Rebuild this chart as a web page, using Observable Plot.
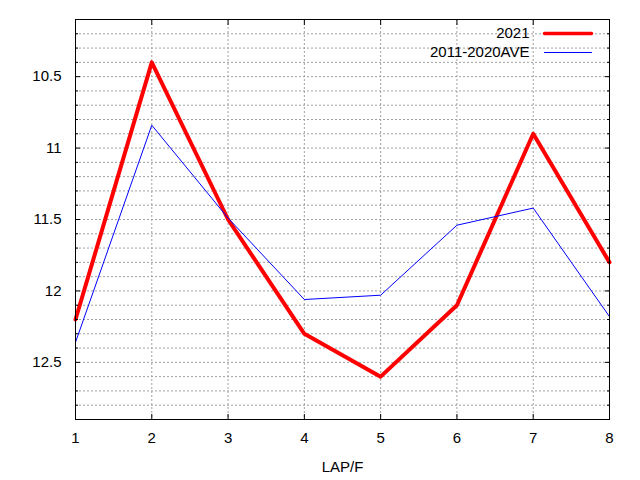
<!DOCTYPE html>
<html><head><meta charset="utf-8">
<script src="https://cdn.jsdelivr.net/npm/d3@7"></script>
<script src="https://cdn.jsdelivr.net/npm/@observablehq/plot@0.6"></script>
<style>body{margin:0;background:#fff}</style>
</head><body><div id="chart"></div>
<script>
const laps = [1, 2, 3, 4, 5, 6, 7, 8];
const times2021 = [12.2, 10.4, 11.5, 12.3, 12.6, 12.1, 10.9, 11.8];
const timesAve = [12.36, 10.84, 11.49, 12.06, 12.03, 11.54, 11.42, 12.18];
const seriesNames = ["2021", "2011-2020AVE"];
const xTicks = [1, 2, 3, 4, 5, 6, 7, 8];
const yTicks = [10.5, 11, 11.5, 12, 12.5];
const yGrid = [10.2, 10.3, 10.4, 10.5, 10.6, 10.7, 10.8, 10.9, 11, 11.1, 11.2, 11.3, 11.4, 11.5,
  11.6, 11.7, 11.8, 11.9, 12, 12.1, 12.2, 12.3, 12.4, 12.5, 12.6, 12.7, 12.8];
const yMinor = yGrid.filter(v => !yTicks.includes(v));
const xLabel = "LAP/F";

const rows2021 = laps.map((lap, i) => ({lap, time: times2021[i], series: seriesNames[0]}));
const rowsAve = laps.map((lap, i) => ({lap, time: timesAve[i], series: seriesNames[1]}));

const lineShape = {draw(context, l) { context.moveTo(0, 0); context.lineTo(0, -l); }};
const gridStyle = {stroke: "#a0a0a0", strokeDasharray: "2,2", strokeWidth: 1};
const noText = () => "";

const chart = Plot.plot({
  width: 640,
  height: 480,
  marginLeft: 75,
  marginRight: 31,
  marginTop: 19,
  marginBottom: 61,
  style: {fontFamily: "'Liberation Sans', Arial, sans-serif", fontSize: "15px", background: "#fff", color: "#000"},
  x: {domain: [1, 8]},
  y: {domain: [10.1, 12.9], reverse: true},
  marks: [
    Plot.ruleY(yGrid, {y: d => d, ...gridStyle}),
    Plot.ruleX(xTicks, {x: d => d, ...gridStyle}),
    Plot.line(rows2021, {x: "lap", y: "time", stroke: "#ff0000", strokeWidth: 4}),
    Plot.line(rowsAve, {x: "lap", y: "time", stroke: "#0000ff", strokeWidth: 1}),
    Plot.frame({stroke: "#000"}),
    // labels
    Plot.axisY({anchor: "left", ticks: yTicks, tickSize: 0, tickPadding: 14, tickFormat: d => String(d), label: null, fontSize: 15}),
    Plot.axisX({anchor: "bottom", ticks: xTicks, tickSize: 0, tickPadding: 13, tickFormat: d => String(d), label: null, fontSize: 15}),
    // inward ticks
    Plot.axisY({anchor: "left", ticks: yTicks, tickSize: -5, tickFormat: noText, label: null}),
    Plot.axisY({anchor: "right", ticks: yTicks, tickSize: -5, tickFormat: noText, label: null}),
    Plot.axisY({anchor: "left", ticks: yMinor, tickSize: -3, tickFormat: noText, label: null}),
    Plot.axisY({anchor: "right", ticks: yMinor, tickSize: -3, tickFormat: noText, label: null}),
    Plot.axisX({anchor: "bottom", ticks: xTicks, tickSize: -5, tickFormat: noText, label: null}),
    Plot.axisX({anchor: "top", ticks: xTicks, tickSize: -5, tickFormat: noText, label: null}),
    // x label
    Plot.text([xLabel], {text: d => d, frameAnchor: "bottom", dy: 52, lineAnchor: "bottom", fontSize: 15}),
    // legend
    Plot.text([seriesNames[0]], {text: d => d, frameAnchor: "top-right", dx: -80, dy: 14, textAnchor: "end", lineAnchor: "middle", fontSize: 15}),
    Plot.text([seriesNames[1]], {text: d => d, frameAnchor: "top-right", dx: -80, dy: 33, textAnchor: "end", lineAnchor: "middle", fontSize: 15}),
    Plot.vector([seriesNames[0]], {frameAnchor: "top-right", dx: -65, dy: 14, rotate: 90, length: 47, anchor: "start", shape: lineShape, stroke: "#ff0000", strokeWidth: 3.5}),
    Plot.vector([seriesNames[1]], {frameAnchor: "top-right", dx: -65, dy: 33, rotate: 90, length: 47, anchor: "start", shape: lineShape, stroke: "#0000ff", strokeWidth: 1})
  ]
});
document.getElementById("chart").appendChild(chart);
</script>
</body></html>
